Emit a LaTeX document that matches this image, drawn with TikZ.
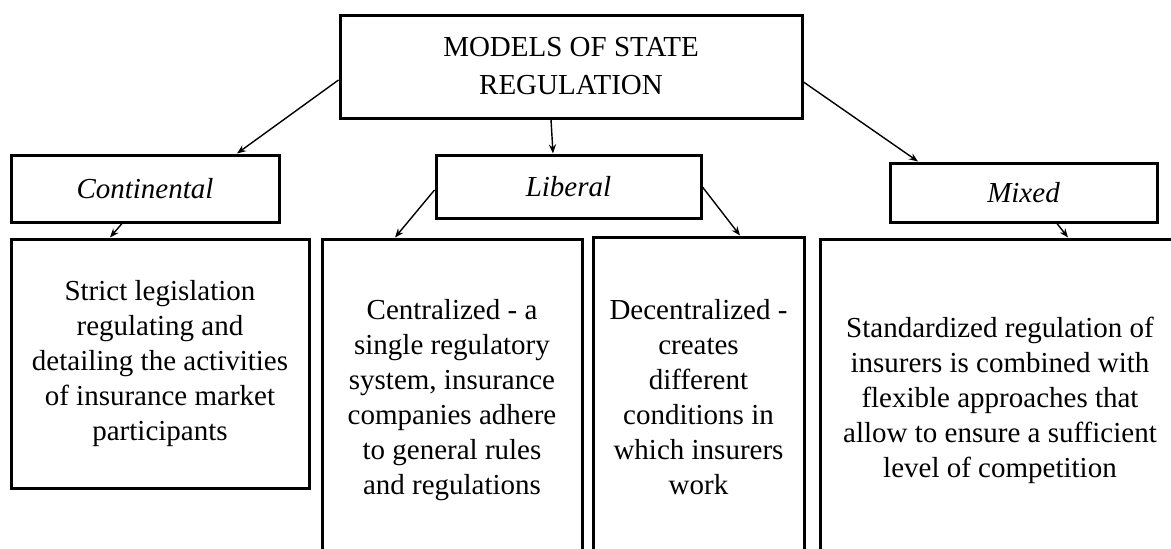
\documentclass[tikz,border=0pt]{standalone}
\usepackage{fontspec}
\setmainfont{Liberation Serif}
\usetikzlibrary{arrows.meta}
\begin{document}
\begin{tikzpicture}[x=1pt,y=-1pt,
  box/.style={draw, line width=3pt, rectangle, align=center, inner sep=0pt, font=\fontsize{29}{35}\selectfont},
  lbl/.style={box, font=\fontsize{29}{35}\selectfont\itshape},
  conn/.style={line width=1.4pt, -{Stealth[length=9pt,width=7pt]}}]
\clip (0,0) rectangle (1171,549);
\fill[white] (0,0) rectangle (1171,549);
\node[box, minimum width=462pt, minimum height=103pt, font=\fontsize{29}{38}\selectfont] (top) at (571,66.5) {MODELS OF STATE\\REGULATION};
\node[lbl, minimum width=268pt, minimum height=67pt] (cont) at (145,188.5) {Continental};
\node[lbl, minimum width=265pt, minimum height=63pt] (lib) at (568.5,186.5) {Liberal};
\node[lbl, minimum width=267pt, minimum height=59pt] (mix) at (1023.5,192.5) {Mixed};
\node[box, minimum width=298pt, minimum height=249pt] (b1) at (160,363.5) {Strict legislation\\regulating and\\detailing the activities\\of insurance market\\participants};
\node[box, minimum width=260pt, minimum height=322pt] (b2) at (452,400) {Centralized - a\\single regulatory\\system, insurance\\companies adhere\\to general rules\\and regulations};
\node[box, minimum width=211pt, minimum height=320pt] (b3) at (698.5,397) {Decentralized -\\creates\\different\\conditions in\\which insurers\\work};
\node[box, minimum width=360pt, minimum height=322pt] (b4) at (1000,400) {Standardized regulation of\\insurers is combined with\\flexible approaches that\\allow to ensure a sufficient\\level of competition};
\draw[conn] ([yshift=-13.5pt]top.west) -- ([xshift=92pt]cont.north);
\draw[conn] ([xshift=-20pt]top.south) -- ([xshift=-15.5pt]lib.north);
\draw[conn] ([yshift=-15.5pt]top.east) -- ([xshift=-105.5pt]mix.north);
\draw[conn] ([xshift=-23pt]cont.south) -- ([xshift=-50pt]b1.north);
\draw[conn] ([yshift=-3.5pt]lib.west) -- ([xshift=-57pt]b2.north);
\draw[conn] ([yshift=-0.5pt]lib.east) -- ([xshift=41.5pt]b3.north);
\draw[conn] ([xshift=33.5pt]mix.south) -- ([xshift=68pt]b4.north);
\end{tikzpicture}
\end{document}
